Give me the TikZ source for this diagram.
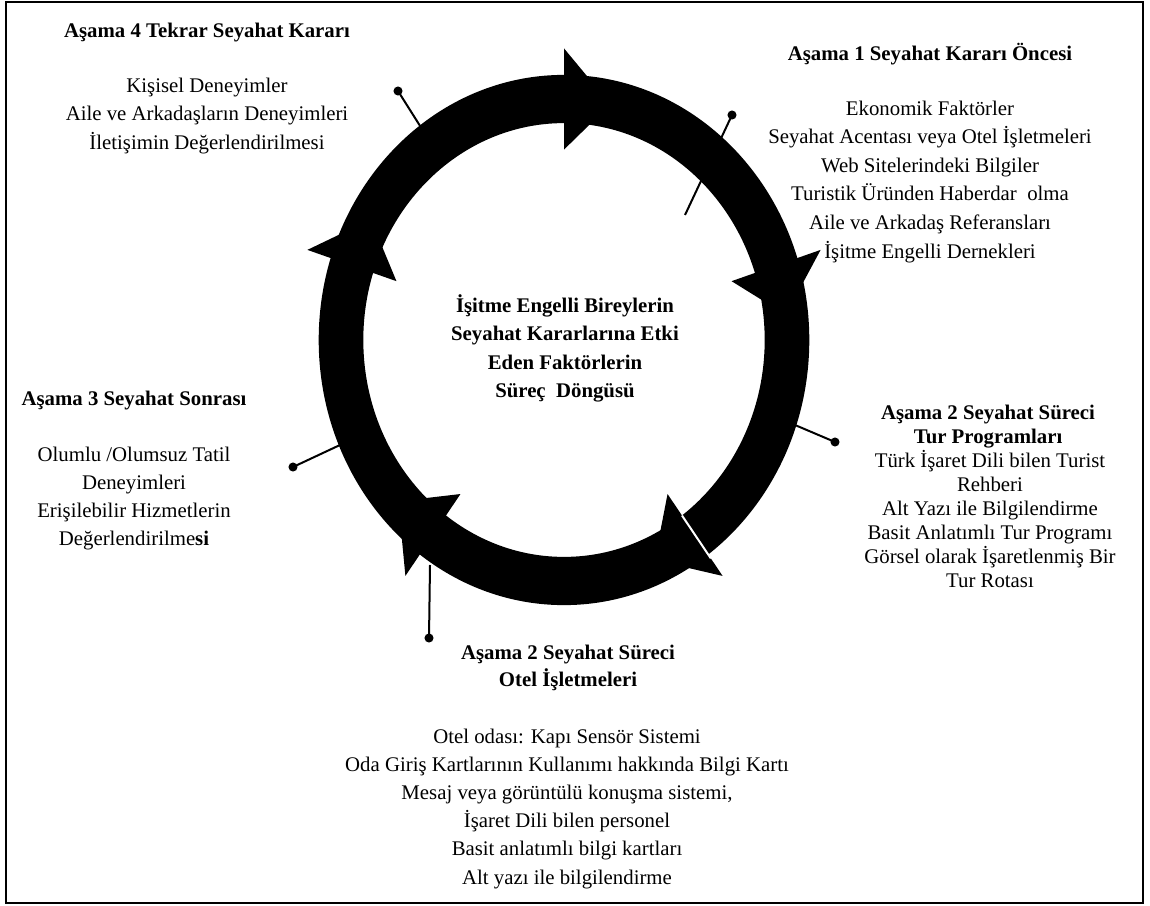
\documentclass[tikz,border=0pt]{standalone}
\usepackage{fontspec}
\setmainfont{Liberation Serif}
\begin{document}
\begin{tikzpicture}[x=0.75pt,y=-0.75pt,
  txt/.style={anchor=base, inner sep=0pt, font=\fontsize{15.6}{18}\selectfont},
  head/.style={txt, font=\fontsize{15.6}{18}\selectfont\bfseries},
  pindot/.style={circle, fill=black, inner sep=0pt, minimum size=6.8pt},
  pinline/.style={line width=1.5pt},
  barb/.style={fill=black}]
\useasboundingbox (0,0) rectangle (1150,906);
\draw[line width=1.6pt] (6,2) rectangle (1143,903);

% cycle ring with five clockwise arrowheads
\begin{scope}[shift={(564,340)}]
\begin{scope}[x=167.25pt, y=-180.75pt]
  \fill[even odd rule] (0,0) ellipse[x radius=1.1, y radius=1.1]
                       (0,0) ellipse[x radius=0.9, y radius=0.9];
  \foreach \a in {-90,-18,54,126,198}
    \fill[barb] (\a:0.79) -- (\a:1.21) -- ({\a+12}:1.0) -- cycle;
  \draw[white, line width=1.5pt] (54:0.9) -- (54:1.12);
\end{scope}
\end{scope}

% pins
\node[pindot] (d4) at (398,91) {};
\coordinate (r4) at (422,129);
\draw[pinline] (d4.center) -- (r4);
\node[pindot] (d1) at (732,115) {};
\coordinate (r1) at (685,215);
\draw[pinline] (d1.center) -- (r1);
\node[pindot] (d2t) at (835,442) {};
\coordinate (r2t) at (795,425);
\draw[pinline] (d2t.center) -- (r2t);
\node[pindot] (d3) at (293,467) {};
\coordinate (r3) at (340,445);
\draw[pinline] (d3.center) -- (r3);
\node[pindot] (d2o) at (429,638) {};
\coordinate (r2o) at (430,565);
\draw[pinline] (d2o.center) -- (r2o);

% centre title
\foreach \t [count=\i] in {İşitme Engelli Bireylerin, Seyahat Kararlarına Etki,
    Eden Faktörlerin, {Süreç~~Döngüsü}}
  \node[head] (c\i) at (565,{312+28.6*(\i-1)}) {\t};

% stage 4
\node[head] (h4) at (207,38) {Aşama 4 Tekrar Seyahat Kararı};
\foreach \t [count=\i] in {Kişisel Deneyimler, Aile ve Arkadaşların Deneyimleri,
    İletişimin Değerlendirilmesi}
  \node[txt] (b4-\i) at (207,{93+28*(\i-1)}) {\t};

% stage 1
\node[head] (h1) at (930,61) {Aşama 1 Seyahat Kararı Öncesi};
\foreach \t [count=\i] in {Ekonomik Faktörler, Seyahat Acentası veya Otel İşletmeleri,
    Web Sitelerindeki Bilgiler, {Turistik Üründen Haberdar~~olma},
    Aile ve Arkadaş Referansları, İşitme Engelli Dernekleri}
  \node[txt] (b1-\i) at (930,{115+28.6*(\i-1)}) {\t};

% stage 2, tours
\node[head] (h2t-1) at (988,419) {Aşama 2 Seyahat Süreci};
\node[head] (h2t-2) at (988,443) {Tur Programları};
\foreach \t [count=\i] in {Türk İşaret Dili bilen Turist, Rehberi,
    Alt Yazı ile Bilgilendirme, Basit Anlatımlı Tur Programı,
    Görsel olarak İşaretlenmiş Bir, Tur Rotası}
  \node[txt] (b2t-\i) at (990,{467+24*(\i-1)}) {\t};

% stage 3
\node[head] (h3) at (134,405) {Aşama 3 Seyahat Sonrası};
\foreach \t [count=\i] in {{Olumlu /Olumsuz Tatil}, Deneyimleri,
    Erişilebilir Hizmetlerin, {Değerlendirilme\textbf{si}}}
  \node[txt] (b3-\i) at (134,{461+28*(\i-1)}) {\t};

% stage 2, hotels
\node[head] (h2o-1) at (568,659) {Aşama 2 Seyahat Süreci};
\node[head] (h2o-2) at (568,686) {Otel İşletmeleri};
\foreach \t [count=\i] in {Otel odası: Kapı Sensör Sistemi,
    Oda Giriş Kartlarının Kullanımı hakkında Bilgi Kartı,
    {Mesaj veya görüntülü konuşma sistemi,}, İşaret Dili bilen personel,
    Basit anlatımlı bilgi kartları, Alt yazı ile bilgilendirme}
  \node[txt] (b2o-\i) at (567,{743+28.2*(\i-1)}) {\t};
\end{tikzpicture}
\end{document}
